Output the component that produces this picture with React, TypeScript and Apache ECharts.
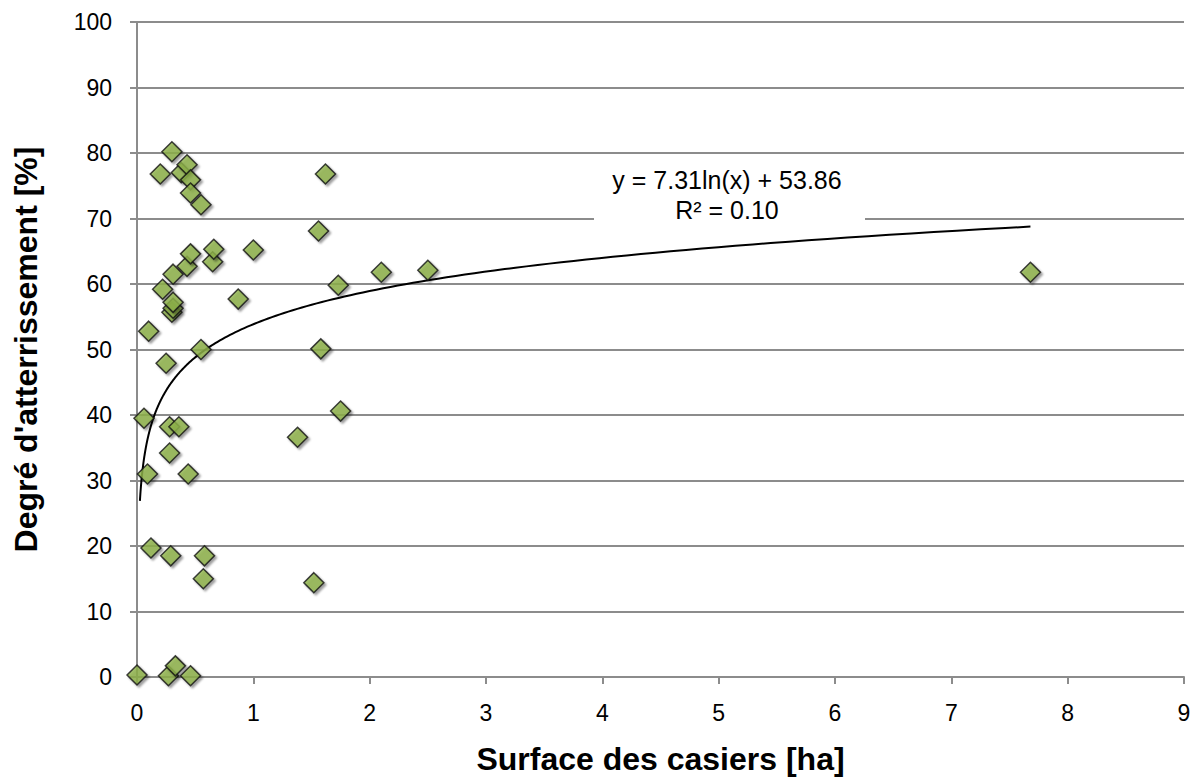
import React, { useEffect, useRef } from "react";
import * as echarts from "echarts";

const surfaceHa = [
  0.0, 0.06, 0.09, 0.1, 0.12, 0.2, 0.22, 0.25, 0.27, 0.3, 0.28, 0.28, 0.29,
  0.3, 0.31, 0.31, 0.31, 0.33, 0.36, 0.38, 0.43, 0.46, 0.46, 0.55, 0.43, 0.46,
  0.44, 0.46, 0.55, 0.57, 0.58, 0.65, 0.66, 0.87, 1.0, 1.38, 1.52, 1.56, 1.58,
  1.62, 1.73, 1.75, 2.1, 2.5, 7.68,
];
const degrePct = [
  0.3, 39.5, 31, 52.8, 19.7, 76.8, 59.2, 47.9, 0.2, 80.2, 38.2, 34.2, 18.5,
  55.7, 56.3, 57.2, 61.5, 1.7, 38.2, 77.0, 78.2, 75.9, 73.9, 72.1, 62.7, 64.6,
  31, 0.2, 50.0, 15, 18.5, 63.4, 65.3, 57.7, 65.2, 36.6, 14.4, 68.1, 50.1,
  76.8, 59.8, 40.6, 61.8, 62.1, 61.8,
];
const xTicks = [0, 1, 2, 3, 4, 5, 6, 7, 8, 9];
const yTicks = [0, 10, 20, 30, 40, 50, 60, 70, 80, 90, 100];
// Trendline shown on the chart: y = 7.31 ln(x) + 53.86
const trendA = 7.31;
const trendB = 53.86;
const trendXStart = 0.025;
const trendXEnd = 7.68;
const equationLines = ["y = 7.31ln(x) + 53.86", "R² = 0.10"];

export default function App() {
  const ref = useRef<HTMLDivElement>(null);
  useEffect(() => {
    if (!ref.current) return;
    const chart = echarts.init(ref.current, null, { renderer: "svg" });
    const points = surfaceHa.map((x, i) => [x, degrePct[i]]);
    const trend: number[][] = [];
    const n = 200;
    const l0 = Math.log(trendXStart);
    const l1 = Math.log(trendXEnd);
    for (let i = 0; i <= n; i++) {
      const x = Math.exp(l0 + ((l1 - l0) * i) / n);
      trend.push([x, trendA * Math.log(x) + trendB]);
    }
    const font = "Liberation Sans, Arial, sans-serif";
    chart.setOption({
      animation: false,
      backgroundColor: "#ffffff",
      grid: { left: 137, right: 10, top: 22, bottom: 105, containLabel: false },
      xAxis: {
        type: "value",
        min: xTicks[0],
        max: xTicks[xTicks.length - 1],
        interval: 1,
        name: "Surface des casiers [ha]",
        nameLocation: "middle",
        nameGap: 66,
        nameTextStyle: { fontFamily: font, fontSize: 32, fontWeight: "bold", color: "#000" },
        axisLine: { show: true, lineStyle: { color: "#8c8c8c", width: 2 } },
        axisTick: { show: true, length: 7, lineStyle: { color: "#8c8c8c", width: 2 } },
        axisLabel: { fontFamily: font, fontSize: 23, color: "#000", margin: 24 },
        splitLine: { show: false },
      },
      yAxis: {
        type: "value",
        min: yTicks[0],
        max: yTicks[yTicks.length - 1],
        interval: 10,
        name: "Degré d'atterrissement [%]",
        nameLocation: "middle",
        nameGap: 95,
        nameTextStyle: { fontFamily: font, fontSize: 32, fontWeight: "bold", color: "#000" },
        axisLine: { show: true, lineStyle: { color: "#8c8c8c", width: 2 } },
        axisTick: { show: true, length: 7, lineStyle: { color: "#8c8c8c", width: 2 } },
        axisLabel: { fontFamily: font, fontSize: 23, color: "#000", margin: 25 },
        splitLine: { show: true, lineStyle: { color: "#8c8c8c", width: 2 } },
      },
      graphic: [
        {
          type: "rect",
          z: 1,
          shape: { x: 594, y: 158, width: 271, height: 74 },
          style: { fill: "#ffffff" },
        },
        {
          type: "text",
          z: 51,
          x: 727,
          y: 180,
          style: {
            text: equationLines[0],
            fontFamily: font,
            fontSize: 25,
            fill: "#000",
            align: "center",
            verticalAlign: "middle",
          },
        },
        {
          type: "text",
          z: 51,
          x: 727,
          y: 210,
          style: {
            text: equationLines[1],
            fontFamily: font,
            fontSize: 25,
            fill: "#000",
            align: "center",
            verticalAlign: "middle",
          },
        },
      ],
      series: [
        {
          type: "line",
          data: trend,
          showSymbol: false,
          symbol: "none",
          smooth: false,
          lineStyle: { color: "#000", width: 2 },
          z: 3,
          silent: true,
        },
        {
          type: "scatter",
          data: points,
          symbol: "diamond",
          symbolSize: [20, 20],
          itemStyle: {
            color: "#8fb34a",
            borderColor: "#111",
            borderWidth: 1.5,
            shadowColor: "rgba(0,0,0,0.45)",
            shadowBlur: 2,
            shadowOffsetX: 2,
            shadowOffsetY: 2,
          },
          z: 4,
        },
      ],
    });
    return () => chart.dispose();
  }, []);
  return (
    <div
      ref={ref}
      style={{ position: "fixed", left: 0, top: 0, width: 1194, height: 782 }}
    />
  );
}
